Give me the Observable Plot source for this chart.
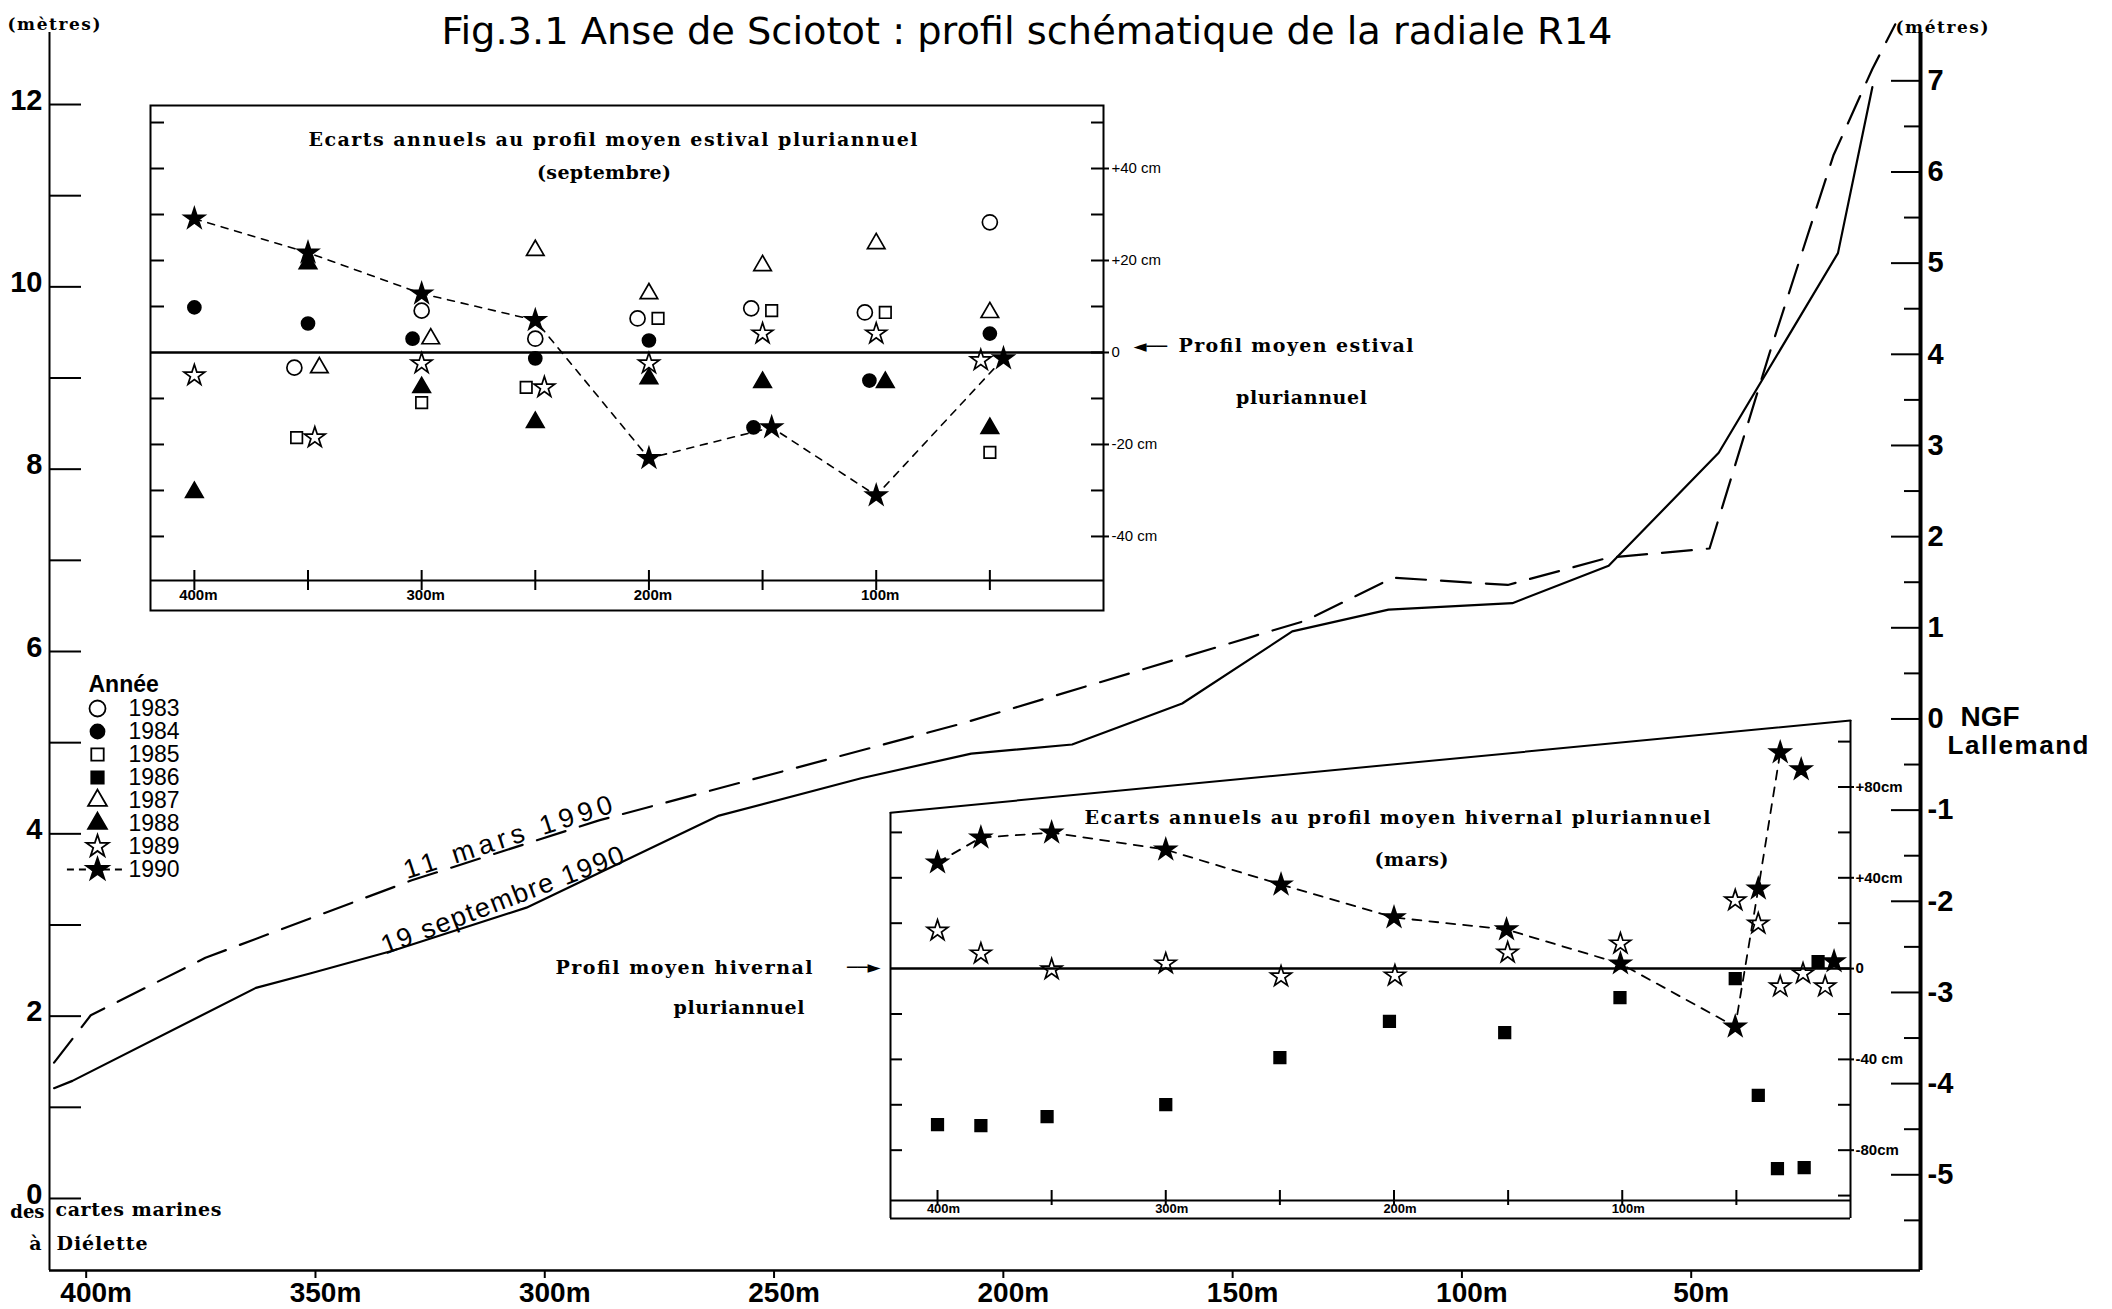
<!DOCTYPE html>
<html><head><meta charset="utf-8">
<script src="https://cdn.jsdelivr.net/npm/d3@7"></script>
<script src="https://cdn.jsdelivr.net/npm/@observablehq/plot@0.6"></script>
<style>
html,body{margin:0;padding:0;background:#fff;}
#fig{position:relative;width:2112px;height:1309px;overflow:hidden;background:#fff;}
#fig > svg{position:absolute;}
</style></head><body><div id="fig"></div>
<script>
// ================= DATA =================
// Main profile: distance (m) and elevation (m, chart datum "0 des cartes marines")
const septDist = [407, 403, 363, 351, 333, 304, 262, 231, 207, 185, 161, 137, 116, 89, 68, 44, 18, 10.5];
const septElev = [1.21, 1.29, 2.31, 2.47, 2.72, 3.19, 4.2, 4.61, 4.88, 4.98, 5.43, 6.22, 6.46, 6.53, 6.94, 8.18, 10.37, 12.19];
const marsDist = [407, 399, 374, 329, 288, 209, 134, 115, 90, 68, 46, 33, 19, 10.5, 5.5];
const marsElev = [1.49, 2.01, 2.64, 3.49, 4.15, 5.21, 6.34, 6.81, 6.73, 7.03, 7.13, 9.26, 11.44, 12.39, 12.88];
const NGF0 = 5.26;                       // elevation of "0 NGF Lallemand" on the chart-datum scale
const leftTicks = d3.range(0, 13);
const leftLabels = [0, 2, 4, 6, 8, 10, 12];
const ngfTicks = d3.range(-5, 8);
const ngfHalfTicks = d3.range(-5.5, 7, 1);
const distTicks = [400, 350, 300, 250, 200, 150, 100, 50];
const insetDistLabels = [400, 300, 200, 100];

// Inset 1 : summer deviations (cm) – septembre
const s1983d = [356, 300, 250, 205, 155, 105, 50],        s1983v = [-3.3, 9.1, 3.0, 7.4, 9.6, 8.7, 28.3];
const s1984d = [400, 350, 304, 250, 200, 154, 103, 50],   s1984v = [9.8, 6.3, 3.0, -1.3, 2.6, -16.3, -6.1, 4.1];
const s1985d = [355, 300, 254, 196, 146, 96, 50],         s1985v = [-18.5, -10.9, -7.6, 7.4, 9.1, 8.7, -21.7];
const s1987d = [345, 296, 250, 200, 150, 100, 50],        s1987v = [-3.3, 3.0, 22.2, 12.8, 18.9, 23.7, 8.7];
const s1988d = [400, 350, 300, 250, 200, 150, 96, 50],    s1988v = [-30.4, 19.3, -7.6, -15.2, -5.7, -6.5, -6.5, -16.5];
const s1989d = [400, 347, 300, 246, 200, 150, 100, 54],   s1989v = [-5.0, -18.5, -2.4, -7.6, -2.4, 4.1, 4.1, -1.7];
const s1990d = [400, 350, 300, 250, 200, 146, 100, 44],   s1990v = [29.1, 21.7, 12.8, 7.0, -23.0, -16.3, -31.1, -1.3];

// Inset 2 : winter deviations (cm) – mars
const h1986d = [400, 381, 352, 300, 250, 202, 151.5, 101, 50.5, 40.4, 32, 20.3, 14.2];
const h1986v = [-68.7, -69.2, -65.2, -59.9, -39.2, -23.3, -28.2, -12.8, -4.4, -55.9, -88.1, -87.7, 3.1];
const h1989d = [400, 381, 350, 300, 249.5, 199.6, 150.2, 100.8, 50.5, 40.4, 30.8, 20.8, 11.1];
const h1989v = [16.7, 6.6, -0.4, 2.2, -3.5, -3.1, 7.0, 11.0, 30.0, 19.8, -7.9, -2.2, -7.9];
const h1990d = [400, 381, 350, 300, 249.5, 200, 150.7, 100.8, 50.5, 40.4, 30.8, 21.6, 7.2];
const h1990v = [46.7, 57.7, 59.9, 52.4, 37.0, 22.5, 17.2, 2.2, -25.6, 35.2, 95.2, 87.7, 3.1];
const h1990linkedCount = 11;

const legendYears = ["1983", "1984", "1985", "1986", "1987", "1988", "1989", "1990"];
const in1RightTickVals = [-40, -30, -20, -10, 0, 10, 20, 30, 40, 50];
const in1LeftTickVals = [-40, -30, -20, -10, 10, 20, 30, 40, 50];
const in1LabelVals = [40, 20, 0, -20, -40];
const in1LabelText = ["+40 cm", "+20 cm", "0", "-20 cm", "-40 cm"];
const in2RightTickVals = [-100, -80, -60, -40, -20, 0, 20, 40, 60, 80, 100];
const in2LeftTickVals = [-80, -60, -40, -20, 20, 40, 60];
const in2LabelVals = [80, 40, 0, -40, -80];
const in2LabelText = ["+80cm", "+40cm", "0", "-40 cm", "-80cm"];

const titleText = "Fig.3.1 Anse de Sciotot : profil schématique de la radiale R14";
// line labels (anchor in data units)
const lineLabels = [
  {d: 308, e: 3.96, t: "11 mars 1990", rot: -18},
  {d: 309.2, e: 3.27, t: "19 septembre 1990", rot: -21}
];

// ================= STYLES =================
const SANS = "Liberation Sans, Arial, Helvetica, sans-serif";
const SERIF = "DejaVu Serif, Liberation Serif, serif";
const sym = {
  "1983": {symbol: "circle", fill: "none", r: 7.5},
  "1984": {symbol: "circle", fill: "black", r: 6.5},
  "1985": {symbol: "square", fill: "none", r: 6.5},
  "1986": {symbol: "square", fill: "black", r: 6.5},
  "1987": {symbol: "triangle", fill: "none", r: 6.5},
  "1988": {symbol: "triangle", fill: "black", r: 6.5},
  "1989": {symbol: "star", fill: "none", r: 6.5},
  "1990": {symbol: "star", fill: "black", r: 6.5}
};
const pts = (D, V) => D.map((d, i) => ({d, v: V[i]}));
const dots = (data, year) => Plot.dot(data, {x: "d", y: "v", symbol: sym[year].symbol, r: sym[year].r,
  fill: sym[year].fill, stroke: "black", strokeWidth: 1.7});
const fig = document.getElementById("fig");
function place(svg, left, top) { svg.style.left = left + "px"; svg.style.top = top + "px"; fig.appendChild(svg); }
const baseStyle = {background: "transparent", color: "black", fontFamily: SANS, overflow: "visible", maxWidth: "none"};
const AX = (o) => ({label: null, ...o});

// ================= MAIN PROFILE =================
const xDomain = [408, 0];
const yDomain = [-0.79, 12.79];
const sept = pts(septDist, septElev);
const mars = pts(marsDist, marsElev);
const fmtNGF = v => { const n = Math.round(v - NGF0); return n < 0 ? "-" + (-n) : String(n); };

const main = Plot.plot({
  width: 2112, height: 1309,
  marginLeft: 49, marginRight: 192, marginTop: 32, marginBottom: 39,
  x: {domain: xDomain, axis: null},
  y: {domain: yDomain, axis: null},
  style: baseStyle,
  marks: [
    Plot.ruleX([xDomain[0]], {strokeWidth: 2}),
    Plot.ruleX([xDomain[1]], {strokeWidth: 4}),
    Plot.ruleY([yDomain[0]], {strokeWidth: 2.5}),
    // left axis
    Plot.axisY(AX({anchor: "left", ticks: leftTicks, tickSize: -32, tickFormat: () => "", strokeWidth: 2})),
    Plot.axisY(AX({anchor: "left", ticks: leftLabels, tickSize: 0, tickPadding: 7, dy: -4, fontSize: 29, fontWeight: "bold"})),
    // right axis (NGF)
    Plot.axisY(AX({anchor: "right", ticks: ngfTicks.map(v => v + NGF0), tickSize: -30, tickFormat: () => "", strokeWidth: 2})),
    Plot.axisY(AX({anchor: "right", ticks: ngfHalfTicks.map(v => v + NGF0), tickSize: -17, tickFormat: () => "", strokeWidth: 2})),
    Plot.axisY(AX({anchor: "right", ticks: ngfTicks.map(v => v + NGF0), tickSize: 0, tickPadding: 7, tickFormat: fmtNGF, fontSize: 29, fontWeight: "bold"})),
    Plot.text(["NGF"], {x: xDomain[1], y: NGF0, dx: 40, dy: -2, textAnchor: "start", fontSize: 28, fontWeight: "bold"}),
    Plot.text(["Lallemand"], {x: xDomain[1], y: NGF0, dx: 27, dy: 27, textAnchor: "start", fontSize: 26, fontWeight: "bold"}),
    // bottom axis
    Plot.axisX(AX({anchor: "bottom", ticks: distTicks, tickSize: 8, tickFormat: () => "", strokeWidth: 2})),
    Plot.axisX(AX({anchor: "bottom", ticks: distTicks, tickSize: 0, tickPadding: 12, dx: 10, tickFormat: d => d + "m", fontSize: 28, fontWeight: "bold"})),
    // profiles
    Plot.line(sept, {x: "d", y: "v", strokeWidth: 2.2}),
    Plot.line(mars, {x: "d", y: "v", strokeWidth: 2.2, strokeDasharray: "30,15"}),
    Plot.text(lineLabels, {x: "d", y: "e", text: "t", rotate: "rot", fontSize: 27}),
    // texts
    Plot.text([titleText], {frameAnchor: "top", dx: 42, dy: -15, fontSize: 37, fontFamily: "Liberation Sans Narrow, DejaVu Sans Condensed, sans-serif"}),
    Plot.text(["(mètres)"], {frameAnchor: "top-left", dx: -42, dy: -15, textAnchor: "start", fontSize: 17, fontWeight: "bold", fontFamily: SERIF}),
    Plot.text(["(métres)"], {frameAnchor: "top-right", dx: -25, dy: -12, textAnchor: "start", fontSize: 17, fontWeight: "bold", fontFamily: SERIF}),
    Plot.text(["des"], {frameAnchor: "bottom-left", dx: -5, dy: -53, textAnchor: "end", fontSize: 18, fontWeight: "bold", fontFamily: SERIF}),
    Plot.text(["cartes marines"], {frameAnchor: "bottom-left", dx: 6, dy: -55, textAnchor: "start", fontSize: 19, fontWeight: "bold", fontFamily: SERIF}),
    Plot.text(["à"], {frameAnchor: "bottom-left", dx: -8, dy: -21, textAnchor: "end", fontSize: 19, fontWeight: "bold", fontFamily: SERIF}),
    Plot.text(["Diélette"], {frameAnchor: "bottom-left", dx: 7, dy: -21, textAnchor: "start", fontSize: 19, fontWeight: "bold", fontFamily: SERIF})
  ]
});
place(main, 0, 0);

// ================= INSET 1 (septembre) =================
const in1X = [419.3, 0], in1Y = [-56.1, 53.7], in1AxisLevel = -49.6;
const in1Map = new Map(in1LabelVals.map((v, i) => [v, in1LabelText[i]]));
const s90 = pts(s1990d, s1990v);
const inset1 = Plot.plot({
  width: 1285, height: 509, marginLeft: 2, marginRight: 330, marginTop: 2, marginBottom: 2,
  x: {domain: in1X, axis: null}, y: {domain: in1Y, axis: null},
  style: baseStyle,
  marks: [
    Plot.frame({strokeWidth: 2}),
    Plot.ruleY([0], {strokeWidth: 2.5}),
    Plot.ruleY([in1AxisLevel], {strokeWidth: 2}),
    Plot.axisX(AX({anchor: "bottom", ticks: distTicks, tickSize: 20, dy: -40, tickFormat: () => "", strokeWidth: 2})),
    Plot.axisX(AX({anchor: "bottom", ticks: insetDistLabels, tickSize: 0, tickPadding: 0, dy: -21, dx: 4, tickFormat: d => d + "m", fontSize: 15, fontWeight: "bold"})),
    Plot.axisY(AX({anchor: "left", ticks: in1LeftTickVals, tickSize: -14, tickFormat: () => "", strokeWidth: 2})),
    Plot.axisY(AX({anchor: "right", ticks: in1RightTickVals, tickSize: -13, tickFormat: () => "", strokeWidth: 2})),
    Plot.axisY(AX({anchor: "right", ticks: in1LabelVals, tickSize: 5, tickPadding: 3, tickFormat: d => in1Map.get(d), fontSize: 15, strokeWidth: 2})),
    Plot.text(["Ecarts annuels au profil moyen estival pluriannuel"], {frameAnchor: "top", dx: -14, dy: 27, fontSize: 19, fontWeight: "bold", fontFamily: SERIF}),
    Plot.text(["(septembre)"], {frameAnchor: "top", dx: -23, dy: 60, fontSize: 19, fontWeight: "bold", fontFamily: SERIF}),
    Plot.text(["◄──"], {x: in1X[1], y: 0, dx: 30, dy: -6, textAnchor: "start", fontSize: 17, fontFamily: "DejaVu Sans"}),
    Plot.text(["Profil moyen estival"], {x: in1X[1], y: 0, dx: 75, dy: -7, textAnchor: "start", fontSize: 19, fontWeight: "bold", fontFamily: SERIF}),
    Plot.text(["pluriannuel"], {x: in1X[1], y: 0, dx: 198, dy: 45, fontSize: 19, fontWeight: "bold", fontFamily: SERIF}),
    Plot.line(s90, {x: "d", y: "v", strokeWidth: 1.6, strokeDasharray: "7,7"}),
    dots(pts(s1983d, s1983v), "1983"),
    dots(pts(s1984d, s1984v), "1984"),
    dots(pts(s1985d, s1985v), "1985"),
    dots(pts(s1987d, s1987v), "1987"),
    dots(pts(s1988d, s1988v), "1988"),
    dots(pts(s1989d, s1989v), "1989"),
    dots(s90, "1990")
  ]
});
place(inset1, 148, 103);

// ================= INSET 2 (mars) =================
const in2X = [420.6, 0], in2Y = [-110.1, 109.3], in2AxisLevel = -102.2, in2TopLeft = 68.7;
const in2Map = new Map(in2LabelVals.map((v, i) => [v, in2LabelText[i]]));
const h90 = pts(h1990d, h1990v);
const inset2 = Plot.plot({
  width: 1370, height: 502, marginLeft: 340, marginRight: 70, marginTop: 2, marginBottom: 2,
  x: {domain: in2X, axis: null}, y: {domain: in2Y, axis: null},
  style: baseStyle,
  marks: [
    Plot.ruleX([in2X[0]], {y1: in2Y[0], y2: in2TopLeft, strokeWidth: 2}),
    Plot.ruleX([in2X[1]], {strokeWidth: 2}),
    Plot.ruleY([in2Y[0]], {strokeWidth: 2}),
    Plot.line([[in2X[0], in2TopLeft], [in2X[1], in2Y[1]]], {strokeWidth: 2}),
    Plot.ruleY([0], {strokeWidth: 2.5}),
    Plot.ruleY([in2AxisLevel], {strokeWidth: 2}),
    Plot.axisX(AX({anchor: "bottom", ticks: distTicks, tickSize: 15, dy: -28, tickFormat: () => "", strokeWidth: 2})),
    Plot.axisX(AX({anchor: "bottom", ticks: insetDistLabels, tickSize: 0, tickPadding: 0, dy: -15, dx: 6, tickFormat: d => d + "m", fontSize: 13, fontWeight: "bold"})),
    Plot.axisY(AX({anchor: "left", ticks: in2LeftTickVals, tickSize: -12, tickFormat: () => "", strokeWidth: 2})),
    Plot.axisY(AX({anchor: "right", ticks: in2RightTickVals, tickSize: -13, tickFormat: () => "", strokeWidth: 2})),
    Plot.axisY(AX({anchor: "right", ticks: in2LabelVals, tickSize: 3, tickPadding: 2, tickFormat: d => in2Map.get(d), fontSize: 15, fontWeight: "bold", strokeWidth: 2})),
    Plot.text(["Ecarts annuels au profil moyen hivernal pluriannuel"], {frameAnchor: "top", dx: 27, dy: 90, fontSize: 19, fontWeight: "bold", fontFamily: SERIF}),
    Plot.text(["(mars)"], {frameAnchor: "top", dx: 41, dy: 132, fontSize: 19, fontWeight: "bold", fontFamily: SERIF}),
    Plot.text(["Profil moyen hivernal"], {frameAnchor: "left", dx: -78, dy: -2, textAnchor: "end", fontSize: 19, fontWeight: "bold", fontFamily: SERIF}),
    Plot.text(["──►"], {frameAnchor: "left", dx: -10, dy: -2, textAnchor: "end", fontSize: 17, fontFamily: "DejaVu Sans"}),
    Plot.text(["pluriannuel"], {frameAnchor: "left", dx: -217, dy: 38, fontSize: 19, fontWeight: "bold", fontFamily: SERIF}),
    Plot.line(h90.slice(0, h1990linkedCount), {x: "d", y: "v", strokeWidth: 1.8, strokeDasharray: "9,8"}),
    dots(pts(h1986d, h1986v), "1986"),
    dots(pts(h1989d, h1989v), "1989"),
    dots(h90, "1990")
  ]
});
place(inset2, 550, 718);

// ================= LEGEND =================
const legend = Plot.plot({
  width: 200, height: 230, marginLeft: 37, marginRight: 132, marginTop: 43, marginBottom: 26,
  x: {domain: [0, 1], axis: null},
  y: {type: "point", domain: legendYears, axis: null, padding: 0},
  style: baseStyle,
  marks: [
    Plot.ruleY(["1990"], {x1: -0.97, x2: 0.9, strokeDasharray: "7,5", strokeWidth: 2}),
    ...legendYears.map(yr => Plot.dot([yr], {x: 0, y: d => d, symbol: sym[yr].symbol, r: sym[yr].r + 0.5,
      fill: sym[yr].fill, stroke: "black", strokeWidth: 1.8})),
    Plot.text(legendYears, {x: 1, y: d => d, text: d => d, textAnchor: "start", fontSize: 23}),
    Plot.text(["Année"], {frameAnchor: "top-left", dx: -9, dy: -33, textAnchor: "start", fontSize: 23, fontWeight: "bold"})
  ]
});
place(legend, 60, 665);

// ================= text widths matching the scan =================
const widths = new Map([
  ["Ecarts annuels au profil moyen estival pluriannuel", 609],
  ["Ecarts annuels au profil moyen hivernal pluriannuel", 626],
  ["(septembre)", 134], ["(mars)", 74],
  ["Profil moyen estival", 235], ["Profil moyen hivernal", 257], ["pluriannuel", 131],
  ["cartes marines", 166], ["Diélette", 91], ["(mètres)", 93], ["(métres)", 93],
  ["Lallemand", 141], ["19 septembre 1990", 258], ["11 mars 1990", 218]
]);
fig.querySelectorAll("text").forEach(t => {
  const w = widths.get(t.textContent);
  if (w) { t.setAttribute("textLength", w); t.setAttribute("lengthAdjust", "spacing"); }
  if (t.textContent === titleText) { t.setAttribute("textLength", 1171); t.setAttribute("lengthAdjust", "spacingAndGlyphs"); }
});
</script></body></html>
